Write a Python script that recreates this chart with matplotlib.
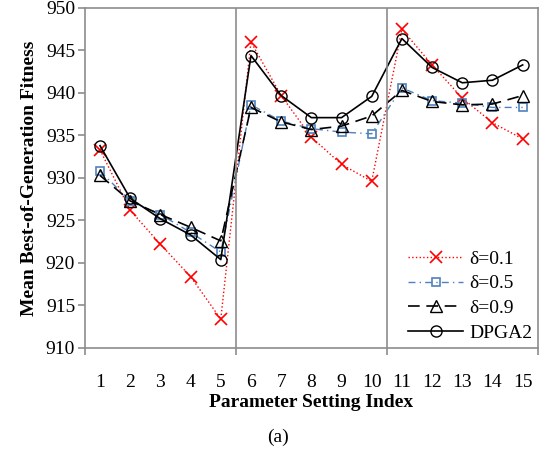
import matplotlib.pyplot as plt
import numpy as np

plt.rcParams['font.family'] = ['Liberation Serif', 'DejaVu Serif']

idx = np.arange(1, 16)
d01 = [933.3, 926.2, 922.2, 918.4, 913.4, 946.0, 939.7, 934.8, 931.6, 929.6, 947.5, 943.3, 939.4, 936.5, 934.6]
d05 = [930.8, 927.3, 925.7, 923.6, 921.3, 938.6, 936.7, 935.8, 935.4, 935.2, 940.6, 939.1, 938.8, 938.3, 938.3]
d09 = [930.3, 927.3, 925.7, 924.2, 922.6, 938.3, 936.6, 935.7, 936.1, 937.3, 940.3, 939.0, 938.6, 938.7, 939.7]
dpga2 = [933.8, 927.6, 925.2, 923.3, 920.4, 944.4, 939.7, 937.1, 937.1, 939.6, 946.4, 943.0, 941.2, 941.5, 943.3]
groups = [0.5, 5.5, 10.5, 15.5]

grey = '#8c8c8c'

fig = plt.figure(figsize=(5.41, 4.53), dpi=100)
ax = fig.add_axes([0.157, 0.2318, 0.837, 0.7506])

ax.plot(idx, d01, color='red', ls=':', lw=1.0, marker='x', ms=8.5, mew=1.2, label='δ=0.1')
ax.plot(idx, d05, color='#4F81BD', ls=(0, (5, 3, 1, 3)), lw=1.0, marker='s', ms=6,
        mfc='none', mew=1.2, label='δ=0.5')
ax.plot(idx, d09, color='black', ls=(0, (7, 4)), lw=1.2, marker='^', ms=8, mfc='none',
        mew=1.0, label='δ=0.9')
ax.plot(idx, dpga2, color='black', ls='-', lw=1.2, marker='o', ms=8, mfc='none',
        mew=1.0, label='DPGA2')

for xv in groups[1:3]:
    ax.axvline(xv, color=grey, lw=1.2)

ax.set_xlim(0.5, 15.5)
ax.set_ylim(910, 950)
ax.set_xticks(groups)
ax.set_xticklabels([])
ax.set_xticks(idx, minor=True)
ax.set_xticklabels([str(i) for i in idx], minor=True)
ax.tick_params(axis='x', which='major', color=grey, length=5, width=1.2, direction='out')
ax.tick_params(axis='x', which='minor', length=0, pad=19, labelsize=14)
ax.set_yticks(np.arange(910, 951, 5))
ax.tick_params(axis='y', labelsize=14, color=grey, length=5, width=1.2, pad=2)
for s in ax.spines.values():
    s.set_color(grey)
    s.set_linewidth(1.2)

ax.set_ylabel('Mean Best-of-Generation Fitness', fontsize=14, fontweight='bold', labelpad=6)
ax.set_xlabel('Parameter Setting Index', fontsize=14, fontweight='bold', labelpad=2)
fig.text(0.514, 0.035, '(a)', ha='center', va='center', fontsize=14)

leg = ax.legend(loc='lower right', bbox_to_anchor=(1.005, -0.005), fontsize=14,
                handlelength=2.85, borderaxespad=0, frameon=False,
                labelspacing=0.37, handletextpad=0.3)

fig.savefig('out.png', dpi=100)
